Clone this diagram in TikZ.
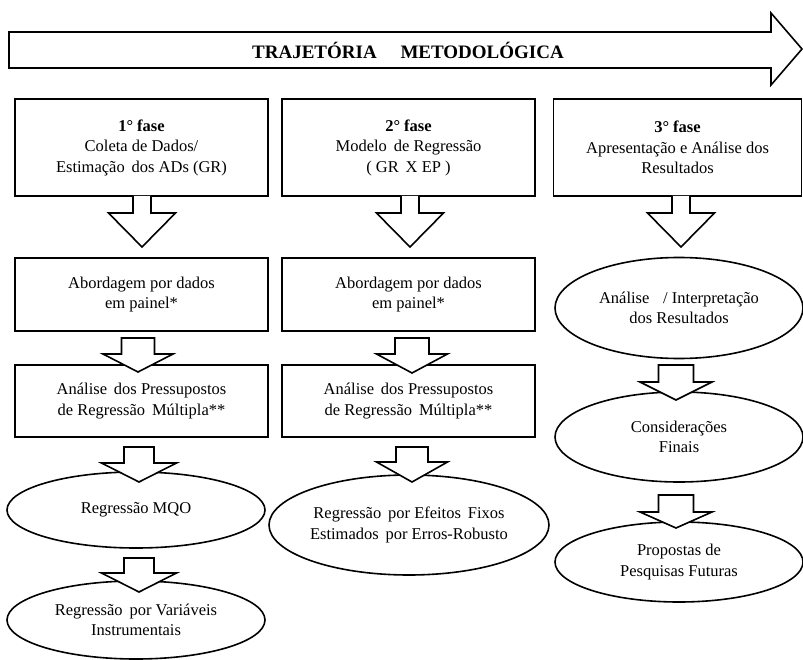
\documentclass[tikz,border=0pt]{standalone}
\usepackage{fontspec}
\setmainfont{Liberation Serif}
\usetikzlibrary{shapes.geometric}
\tikzset{
  txt/.style={font=\fontsize{16.5}{20.5}\selectfont, align=center},
  boxnode/.style={txt, draw, line width=1.6pt, rectangle, inner sep=0pt},
  ellnode/.style={txt, draw, line width=1.6pt, ellipse, inner sep=0pt},
  barrow/.style={draw, fill=white, line width=1.6pt, line join=miter}
}
% big open-top arrow: cx, ytop, shaft half, ybase, head half, ytip
\newcommand\bigarr[6]{%
  \path[barrow] ({#1-#3},#2) -- ({#1-#3},#4) -- ({#1-#5},#4) -- (#1,#6) -- ({#1+#5},#4) -- ({#1+#3},#4) -- ({#1+#3},#2);}
% small closed arrow
\newcommand\smallarr[6]{%
  \path[barrow] ({#1-#3},#2) -- ({#1-#3},#4) -- ({#1-#5},#4) -- (#1,#6) -- ({#1+#5},#4) -- ({#1+#3},#4) -- ({#1+#3},#2) -- cycle;}
\begin{document}
\begin{tikzpicture}[x=1pt,y=-1pt]
\useasboundingbox[fill=white] (0,0) rectangle (803,660);

% title arrow
\path[barrow] (9,32) -- (771,32) -- (771,13) -- (802,49) -- (771,85) -- (771,68) -- (9,68) -- cycle;
\node[font=\fontsize{19}{20}\selectfont\bfseries] (title) at (408,50) {TRAJETÓRIA\hspace{1em} METODOLÓGICA};

% phase boxes
\node[boxnode, minimum width=253pt, minimum height=97pt] (f1) at (141.5,147.5)
  {\textbf{1° fase}\\Coleta de Dados/\\Estimação\, dos ADs (GR)};
\node[boxnode, minimum width=253pt, minimum height=97pt] (f2) at (408.5,147.5)
  {\textbf{2° fase}\\Modelo\, de Regressão\\( GR\, X EP )};
\node[boxnode, minimum width=248pt, minimum height=97pt] (f3) at (677.5,147.5)
  {\textbf{3° fase}\\Apresentação e Análise dos\\Resultados};

% column 1
\node[boxnode, minimum width=253pt, minimum height=73pt] (a1) at (141.5,294.5)
  {Abordagem por dados\\em painel*};
\node[boxnode, minimum width=253pt, minimum height=72pt] (p1) at (141.5,401)
  {Análise\, dos Pressupostos\\de Regressão\, Múltipla**};
\node[ellnode, minimum width=258pt, minimum height=76pt] (m1) at (136,510)
  {Regressão MQO};
\node[ellnode, minimum width=258pt, minimum height=78pt] (v1) at (136,620)
  {Regressão\, por Variáveis\\Instrumentais};

% column 2
\node[boxnode, minimum width=253pt, minimum height=73pt] (a2) at (408.5,294.5)
  {Abordagem por dados\\em painel*};
\node[boxnode, minimum width=253pt, minimum height=72pt] (p2) at (408.5,401)
  {Análise\, dos Pressupostos\\de Regressão\, Múltipla**};
\node[ellnode, minimum width=254pt, minimum height=100pt] (e2) at (409,525)
  {Regressão\, por Efeitos\, Fixos\\Estimados\, por Erros-Robusto};

% column 3
\node[ellnode, minimum width=248pt, minimum height=101pt] (r3) at (679,308)
  {Análise\, \, / Interpretação\\dos Resultados};
\node[ellnode, minimum width=248pt, minimum height=90pt] (c3) at (679,437)
  {Considerações\\Finais};
\node[ellnode, minimum width=248pt, minimum height=80pt] (s3) at (679,562)
  {Propostas de\\Pesquisas Futuras};

% block arrows
\bigarr{142}{196}{9}{213}{33.5}{247}
\bigarr{410}{196}{9}{213}{33.5}{247}
\bigarr{681}{196}{9}{213}{33.5}{247}

\smallarr{138}{338}{16.5}{354}{35}{372}
\smallarr{412}{338}{17}{354}{35.5}{373}
\smallarr{139}{447}{15}{463}{37.5}{482}
\smallarr{412}{447}{16}{462}{35.5}{482}
\smallarr{139}{558}{15}{573}{37.5}{592}

\smallarr{676}{365}{17.5}{382}{36}{400}
\smallarr{676}{495}{17.5}{512}{36}{528}
\end{tikzpicture}
\end{document}
